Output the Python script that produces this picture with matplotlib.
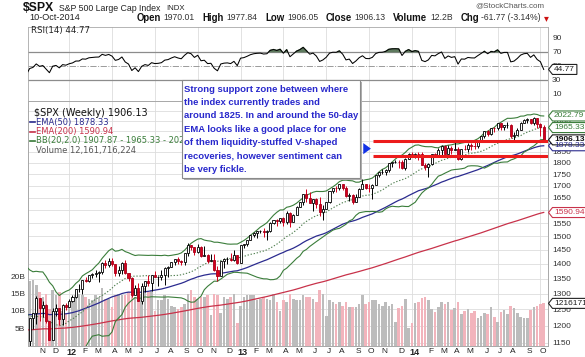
import matplotlib
matplotlib.use("Agg")
import matplotlib.pyplot as plt
import numpy as np
import pandas as pd
from matplotlib.patches import Polygon, Rectangle
from matplotlib.transforms import IdentityTransform, blended_transform_factory
from matplotlib.ticker import FuncFormatter, NullLocator

W, H = 585, 357

# weekly closes before the visible window (20-May-2011 .. 07-Oct-2011), they only feed the indicators
pre_close = [1333.27, 1331.10, 1300.16, 1270.98, 1271.50, 1268.45, 1339.67, 1343.80, 1316.14, 1345.02,
             1292.28, 1199.38, 1178.81, 1123.53, 1176.80, 1173.97, 1154.23, 1216.01, 1136.43, 1131.42,
             1155.46]

# visible weeks, 14-Oct-2011 .. 10-Oct-2014
close = [1224.58, 1238.25, 1285.09, 1253.23, 1263.85, 1215.65, 1158.67, 1244.28, 1255.19, 1219.66, 1265.33, 1257.60,
         1277.81, 1289.09, 1315.38, 1316.33, 1344.90, 1342.64, 1361.23, 1365.74, 1369.63, 1370.87, 1404.17, 1397.11,
         1408.47, 1398.08, 1370.26, 1378.53, 1403.36, 1369.10, 1353.39, 1295.22, 1317.82, 1278.04, 1325.66, 1342.84,
         1335.02, 1362.16, 1354.68, 1356.78, 1362.66, 1385.97, 1390.99, 1405.87, 1418.16, 1411.13, 1406.58, 1437.92,
         1465.77, 1460.15, 1440.67, 1460.93, 1428.59, 1433.19, 1411.94, 1414.20, 1379.85, 1359.88, 1409.15, 1416.18,
         1418.07, 1413.58, 1430.15, 1402.43,
         1466.47, 1472.05, 1485.98, 1502.96, 1513.17, 1517.93, 1519.79, 1515.60, 1518.20, 1551.18, 1560.70, 1556.89,
         1569.19, 1553.28, 1588.85, 1555.25, 1582.24, 1614.42, 1633.70, 1667.47, 1649.60, 1630.74, 1643.38, 1626.73,
         1592.43, 1606.28, 1631.89, 1680.19, 1692.09, 1691.65, 1709.67, 1691.42, 1655.83, 1663.50, 1632.97, 1655.17,
         1687.99, 1709.91, 1691.75, 1690.50, 1703.20, 1744.50, 1759.77, 1761.64, 1770.61, 1798.18, 1804.76, 1805.81,
         1805.09, 1775.32, 1818.32, 1841.40,
         1831.37, 1842.37, 1838.70, 1790.29, 1782.59, 1797.02, 1838.63, 1836.25, 1859.45, 1878.04, 1841.13, 1866.52,
         1857.62, 1865.09, 1815.69, 1864.85, 1863.40, 1881.14, 1878.48, 1877.86, 1900.53, 1923.57, 1949.44, 1936.16,
         1962.87, 1960.96, 1985.44, 1967.57, 1978.22, 1978.34, 1925.15, 1931.59, 1955.06, 1988.40, 2003.37, 2007.71,
         1985.54, 2010.40, 1982.85, 1967.90, 1906.13]

high = [1224.6, 1239, 1293, 1285, 1277, 1266, 1216, 1255, 1267, 1256, 1268, 1269,
        1284, 1296, 1315, 1333, 1345, 1354, 1363, 1368, 1378, 1374, 1405, 1414,
        1420, 1422, 1401, 1392, 1406, 1415, 1369, 1356, 1328, 1335, 1335, 1343,
        1363, 1362, 1374, 1357, 1380, 1389, 1394, 1407, 1418, 1426, 1413, 1438,
        1474, 1467, 1460, 1470, 1464, 1464, 1434, 1434, 1434, 1392, 1409, 1420,
        1423, 1438, 1448, 1430,
        1467, 1472, 1485, 1503, 1514, 1518, 1524, 1530, 1525, 1552, 1563, 1564,
        1570, 1573, 1597, 1593, 1585, 1618, 1635, 1667, 1687, 1674, 1646, 1648,
        1654, 1620, 1632, 1680, 1693, 1698, 1709, 1709, 1700, 1669, 1666, 1664,
        1689, 1729, 1710, 1708, 1708, 1745, 1759, 1775, 1774, 1798, 1804, 1813,
        1811, 1812, 1823, 1844,
        1849, 1843, 1850, 1850, 1798, 1798, 1841, 1847, 1867, 1883, 1883, 1883,
        1875, 1897, 1872, 1865, 1884, 1891, 1889, 1902, 1901, 1924, 1950, 1955,
        1963, 1968, 1985, 1985, 1979, 1991, 1985, 1942, 1964, 1992, 2006, 2011,
        2007, 2019, 2010, 1986, 1977.84]

low = [1139, 1191, 1207, 1215, 1226, 1209, 1158, 1158, 1231, 1203, 1202, 1248,
       1258, 1274, 1285, 1306, 1300, 1337, 1340, 1352, 1354, 1340, 1366, 1387,
       1391, 1394, 1357, 1358, 1367, 1367, 1343, 1291, 1295, 1277, 1266, 1306,
       1324, 1309, 1354, 1325, 1345, 1329, 1354, 1390, 1397, 1398, 1397, 1397,
       1429, 1449, 1430, 1440, 1425, 1428, 1403, 1410, 1377, 1343, 1359, 1385,
       1398, 1411, 1410, 1398,
       1402, 1456, 1463, 1485, 1497, 1495, 1513, 1497, 1485, 1514, 1547, 1538,
       1550, 1539, 1548, 1536, 1554, 1581, 1614, 1623, 1635, 1630, 1598, 1607,
       1577, 1560, 1605, 1631, 1671, 1676, 1681, 1683, 1654, 1639, 1627, 1633,
       1655, 1686, 1687, 1674, 1646, 1703, 1740, 1753, 1746, 1761, 1780, 1800,
       1779, 1772, 1767, 1818,
       1827, 1823, 1815, 1790, 1770, 1737, 1791, 1825, 1836, 1834, 1839, 1839,
       1840, 1857, 1814, 1815, 1859, 1851, 1859, 1862, 1868, 1900, 1915, 1925,
       1930, 1944, 1955, 1952, 1955, 1965, 1916, 1904, 1928, 1955, 1988, 1990,
       1983, 1978, 1965, 1926, 1906.05]

# weekly volume, billions of shares
volume = [18.5, 19.0, 17.5, 15.5, 14.0, 15.0, 10.5, 16.0, 14.5, 15.5, 10.0, 9.0,
          12.5, 14.0, 14.5, 15.0, 14.5, 14.0, 13.5, 13.0, 14.5, 14.0, 16.5, 13.5,
          13.5, 11.0, 14.5, 15.0, 14.5, 14.5, 15.5, 17.0, 14.0, 15.5, 15.0, 16.5,
          15.5, 16.0, 10.0, 13.0, 13.0, 14.5, 13.5, 11.5, 11.0, 10.5, 11.0, 12.0,
          15.0, 16.0, 14.0, 13.5, 14.0, 14.0, 14.5, 8.8, 15.0, 14.5, 9.5, 14.0,
          13.5, 14.0, 15.0, 6.4,
          11.5, 14.0, 14.5, 14.5, 14.5, 13.0, 13.5, 14.0, 13.5, 13.0, 15.0, 12.5,
          10.0, 13.0, 12.5, 15.0, 13.5, 13.0, 13.0, 14.5, 14.0, 14.0, 13.5, 12.5,
          16.0, 15.0, 8.5, 13.0, 12.5, 12.0, 12.5, 11.5, 12.5, 11.0, 11.0, 11.0,
          12.0, 14.5, 12.0, 12.5, 13.0, 13.0, 12.0, 11.5, 12.5, 11.5, 12.0, 6.9,
          10.7, 11.5, 13.5, 5.0,
          6.4, 12.2, 12.7, 13.8, 14.0, 13.0, 10.5, 9.8, 11.2, 12.5, 11.9, 12.7,
          10.2, 10.7, 12.5, 9.0, 9.9, 10.5, 9.5, 10.0, 7.9, 8.5, 9.5, 9.0,
          11.0, 8.3, 6.9, 9.8, 10.2, 9.0, 11.5, 10.7, 9.3, 8.3, 7.9, 8.0,
          10.2, 11.0, 11.5, 12.0, 12.16]

EMA50_SEED = 1250     # EMA values at 20-May-2011
EMA200_SEED = 1178
support = [1900, 1830]
price_grid = list(range(1150, 2101, 50))
# 1600, 1900 and 1950 sit under the value tags on the reference
price_labels = [1150, 1200, 1250, 1300, 1350, 1400, 1450, 1500, 1550, 1650, 1700, 1750, 1800, 1850, 2000]

# ---------------- indicators ----------------
all_close = np.array(pre_close + close)
n_pre = len(pre_close)
dates = pd.date_range("2011-05-20", periods=len(all_close), freq="W-FRI")
x_all = np.arange(len(all_close)) - n_pre


def ema(vals, n, seed):
    a = 2.0 / (n + 1)
    out = np.empty(len(vals))
    e = seed
    for i, v in enumerate(vals):
        if i > 0:
            e = e + a * (v - e)
        out[i] = e
    return out


ema50 = ema(all_close, 50, EMA50_SEED)
ema200 = ema(all_close, 200, EMA200_SEED)
s = pd.Series(all_close)
bb_mid = s.rolling(20).mean().values
bb_sd = s.rolling(20).std(ddof=0).values
bb_up = bb_mid + 2 * bb_sd
bb_dn = bb_mid - 2 * bb_sd

d = np.diff(all_close)
gain = np.clip(d, 0, None)
loss = np.clip(-d, 0, None)
ag, al = gain[:14].mean(), loss[:14].mean()
rsi = np.full(len(all_close), np.nan)
rsi[14] = 100 - 100 / (1 + ag / al)
for i in range(14, len(d)):
    ag = (ag * 13 + gain[i]) / 14
    al = (al * 13 + loss[i]) / 14
    rsi[i + 1] = 100 - 100 / (1 + ag / al)

c = np.array(close)
o = all_close[n_pre - 1:-1]
hi = np.maximum(np.array(high, float), np.maximum(o, c))
lo = np.minimum(np.array(low, float), np.minimum(o, c))
up = c >= o
xv = np.arange(len(c))
vis_dates = dates[n_pre:]

# month ticks, quarter grid
month_pos, month_lab, quarter_pos = [], [], []
prev_m = vis_dates[0].month
for i, dt in enumerate(vis_dates):
    if dt.month != prev_m:
        month_pos.append(i)
        month_lab.append(f"{dt.year % 100:02d}" if dt.month == 1 else "JFMAMJJASOND"[dt.month - 1])
        if dt.month in (1, 4, 7, 10):
            quarter_pos.append(i)
        prev_m = dt.month

# ---------------- figure ----------------
plt.rcParams['font.family'] = ['Liberation Sans', 'DejaVu Sans']
fig = plt.figure(figsize=(W / 100, H / 100), dpi=100)
fig.patch.set_facecolor('white')
rend = fig.canvas.get_renderer()


def px(x, y):
    return x / W, 1 - y / H


XL = (-0.5, 157.3)
GRID = '#dddddd'
SPINE = '#a8a8a8'

# RSI panel
ax_r = fig.add_axes([28 / W, 1 - 101 / H, 520 / W, 74 / H])
ax_r.set_xlim(*XL)
ax_r.set_ylim(0, 105)
for q in quarter_pos:
    ax_r.axvline(q, color=GRID, lw=0.6, zorder=0)
ax_r.axhline(70, color='#8c8c8c', lw=0.9)
ax_r.axhline(30, color='#8c8c8c', lw=0.9)
ax_r.axhline(50, color='#9a9a9a', lw=0.7, ls='-.')
ax_r.plot(x_all, rsi, color='black', lw=0.75, zorder=3)
ax_r.fill_between(x_all, rsi, 70, where=rsi > 70, interpolate=True, color='#5e7a5e', zorder=2)
ax_r.set_xticks([])
ax_r.yaxis.tick_right()
ax_r.set_yticks([10, 30, 50, 70, 90])
ax_r.tick_params(axis='y', length=0, pad=3, labelsize=6, colors='#333333')
for sp in ax_r.spines.values():
    sp.set_color(SPINE)
    sp.set_linewidth(0.6)

# price panel and volume behind it
ax = fig.add_axes([28 / W, 1 - 345.7 / H, 520 / W, 244.7 / H])
ax_v = ax.twinx()
ax.set_zorder(2)
ax_v.set_zorder(1)
ax.patch.set_visible(False)
ax_v.patch.set_visible(True)
ax_v.patch.set_facecolor('white')

ax.set_yscale('log')
ax.set_ylim(1142.3, 2099.6)
ax.set_xlim(*XL)
ax_v.set_ylim(0, 244.7 / 3.48)

gtr = blended_transform_factory(ax_v.transAxes, ax.transData)
for p in price_grid:
    ax_v.plot([0, 1], [p, p], transform=gtr, color=GRID, lw=0.6, zorder=0)
for q in quarter_pos:
    ax_v.axvline(q, color=GRID, lw=0.6, zorder=0)

ax_v.bar(xv, volume, width=0.78, color=np.where(up, '#bcbcbc', '#f2b4bc'), zorder=1)

ax.plot(x_all, ema200, color='#c8324a', lw=0.9, zorder=3)
ax.plot(x_all, ema50, color='#2b2b8f', lw=0.9, zorder=3)
ax.plot(x_all, bb_up, color='#3a7d3a', lw=0.8, zorder=3)
ax.plot(x_all, bb_dn, color='#3a7d3a', lw=0.8, zorder=3)
ax.plot(x_all, bb_mid, color='#4f7f4f', lw=0.8, ls=(0, (1.2, 1.6)), zorder=3)

red = '#d6001c'
ax.vlines(xv, lo, hi, colors=np.where(up, 'black', red), lw=0.7, zorder=4)
ax.bar(xv[up], (c - o)[up], bottom=o[up], width=0.62, facecolor='white', edgecolor='black', lw=0.6, zorder=5)
ax.bar(xv[~up], (o - c)[~up], bottom=c[~up], width=0.62, facecolor=red, edgecolor='#a8001a', lw=0.6, zorder=5)

# support zone marks
ax.hlines(support, 104.3, XL[1], colors='#ec1c1c', lw=2.2, zorder=6)
ax.annotate('', xy=(104.4, 1865), xytext=(100.6, 1865),
            arrowprops=dict(arrowstyle='simple,head_length=0.55,head_width=0.8,tail_width=0.45',
                            color='#1232e6', lw=0), zorder=6)

ax.minorticks_off()
ax.yaxis.tick_right()
ax.set_yticks(price_labels)
ax.yaxis.set_minor_locator(NullLocator())
ax.yaxis.set_major_formatter(FuncFormatter(lambda v, p: f"{v:.0f}"))
ax.tick_params(axis='y', length=0, pad=3, labelsize=6, colors='#333333')
ax.set_xticks(np.array(month_pos) + 0.7)
ax.set_xticklabels(month_lab)
ax.tick_params(axis='x', length=0, pad=1.5, labelsize=6, colors='#222222')
for t in ax.get_xticklabels():
    if t.get_text().isdigit():
        t.set_fontweight('bold')
        t.set_fontsize(6.5)

ax_v.yaxis.tick_left()
ax_v.set_yticks([5, 10, 15, 20])
ax_v.set_yticklabels(['5B', '10B', '15B', '20B'])
ax_v.tick_params(axis='y', length=0, pad=2, labelsize=6, colors='#333333')
for a in (ax, ax_v):
    for sp in a.spines.values():
        sp.set_color(SPINE)
        sp.set_linewidth(0.6)

# ---------------- header ----------------
fig.text(*px(23, 8), '$SPX', fontsize=8.8, fontweight='bold', va='center', color='#111111')
fig.text(*px(59, 8.5), 'S&P 500 Large Cap Index', fontsize=6.3, va='center', color='#222222')
fig.text(*px(166, 8.5), 'INDX', fontsize=5.6, va='center', color='#222222')
fig.text(*px(29, 18), '10-Oct-2014', fontsize=6.6, va='center', color='#222222')
fig.text(*px(475, 5.5), '@StockCharts.com', fontsize=5.8, va='center', color='#555555')

info = [('Open', True), ('1970.01', False), ('High', True), ('1977.84', False),
        ('Low', True), ('1906.05', False), ('Close', True), ('1906.13', False),
        ('Volume', True), ('12.2B', False), ('Chg', True), ('-61.77 (-3.14%)', False)]
pieces = []
for txt, b in info:
    t = fig.text(0, 1 - 18 / H, txt, fontsize=6.9 if b else 6.2, fontweight='bold' if b else 'normal',
                 va='center', color='#111111' if b else '#333333')
    pieces.append((t, t.get_window_extent(rend).width, b))
total = sum(w for _, w, _ in pieces)
small_gap = 2.5
n_big = sum(1 for _, _, b in pieces[1:] if b)
big_gap = (541 - 137 - total - small_gap * (len(pieces) - 1 - n_big)) / n_big
xx = 137
for k, (t, w, b) in enumerate(pieces):
    if k > 0:
        xx += big_gap if b else small_gap
    t.set_x(xx / W)
    xx += w
fig.text(*px(544, 18), '\u25be', fontsize=7, va='center', color='#cc1111', family='DejaVu Sans')

# panel labels
fig.text(*px(31, 31), 'RSI(14) 44.77', fontsize=6.2, va='center', color='#222222', family='DejaVu Sans')
leg = [('$SPX (Weekly) 1906.13', '#111111', None, 7.0),
       ('EMA(50) 1878.33', '#2b2b8f', '#2b2b8f', 6.0),
       ('EMA(200) 1590.94', '#c8324a', '#c8324a', 6.0),
       ('BB(20,2.0) 1907.87 - 1965.33 - 2022.79', '#3a7d3a', '#3a7d3a', 6.0),
       ('Volume 12,161,716,224', '#555555', None, 6.0)]
for k, (txt, col, dash, fs) in enumerate(leg):
    yy = 113 + k * 9.3
    if dash:
        fig.add_artist(plt.Line2D([30 / W, 35 / W], [1 - yy / H] * 2, color=dash, lw=1.2))
    fig.text(*px(36 if k else 34, yy), txt, fontsize=fs, va='center', color=col, family='DejaVu Sans')

# annotation box
bx0, bx1, by0, by1 = 182, 360, 80, 178
fig.add_artist(Rectangle((bx0 + 2, H - by1 - 2), bx1 - bx0, by1 - by0, transform=IdentityTransform(),
                         facecolor='#b0b0b0', edgecolor='none', zorder=10))
fig.add_artist(Rectangle((bx0, H - by1), bx1 - bx0, by1 - by0, transform=IdentityTransform(),
                         facecolor='white', edgecolor='#8a8a8a', lw=0.8, zorder=11))
note = ['Strong support zone between where', 'the index currently trades and',
        'around 1825. In and around the 50-day', 'EMA looks like a good place for one',
        'of them liquidity-stuffed V-shaped', 'recoveries, however sentiment can', 'be very fickle.']
for k, line in enumerate(note):
    fig.text(*px(184.5, 89.3 + k * 13.3), line, fontsize=6.8, fontweight='bold', color='#2828cc',
             va='center', zorder=12)


# value tags on the right edge
def tag(a, yval, txt, col, bold=False):
    xd = a.transAxes.transform((1, 0))[0]
    yd = a.transData.transform((0, yval))[1]
    t = fig.text((xd + 6) / W, yd / H, txt, fontsize=6, va='center', ha='left', color=col,
                 fontweight='bold' if bold else 'normal', zorder=14)
    bb = t.get_window_extent(rend)
    x1 = bb.x1 + 2
    h = 5
    fig.add_artist(Polygon([[xd + 0.5, yd], [xd + 4.5, yd + h], [x1, yd + h], [x1, yd - h], [xd + 4.5, yd - h]],
                           closed=True, transform=IdentityTransform(), facecolor='white',
                           edgecolor=col, lw=0.8, zorder=13))


tag(ax_r, 44.77, '44.77', '#222222')
tag(ax, 2022.79, '2022.79', '#3a7d3a')
tag(ax, 1965.33, '1965.33', '#3a7d3a')
tag(ax, 1878.33, '1878.33', '#2b2b8f')
tag(ax, 1906.13, '1906.13', '#111111', bold=True)
tag(ax, 1590.94, '1590.94', '#c8324a')
tag(ax_v, 12.16, '12161716224', '#222222')

fig.savefig('out.png', dpi=100)
